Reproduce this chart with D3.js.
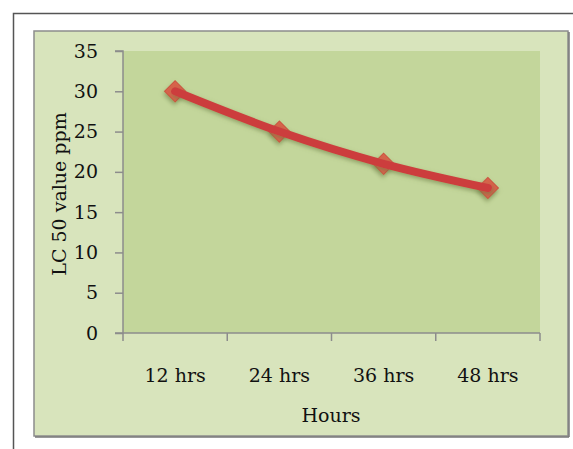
<!DOCTYPE html>
<html><head><meta charset="utf-8">
<script src="https://cdn.jsdelivr.net/npm/d3@7"></script>
<style>body{margin:0;background:#fff}svg{display:block}</style>
</head><body>
<script>
const categories = ["12 hrs", "24 hrs", "36 hrs", "48 hrs"];
const lcValues = [30, 25, 21, 18];
const yTicks = [0, 5, 10, 15, 20, 25, 30, 35];
const xTitle = "Hours";
const yTitle = "LC 50 value ppm";

const W = 573, H = 449;
const svg = d3.select("body").append("svg").attr("width", W).attr("height", H);
const defs = svg.append("defs");
const f = defs.append("filter").attr("id","sh").attr("x","-50%").attr("y","-50%").attr("width","200%").attr("height","200%");
f.append("feDropShadow").attr("dx",1.5).attr("dy",2.5).attr("stdDeviation",2).attr("flood-color","#6b7a40").attr("flood-opacity",0.6);

// outer frame
svg.append("rect").attr("x",13.5).attr("y",13.5).attr("width",W+20).attr("height",H+20)
  .attr("fill","#fff").attr("stroke","#555").attr("stroke-width",1.5);
// chart panel
svg.append("rect").attr("x",34).attr("y",31).attr("width",534).attr("height",405)
  .attr("fill","#D8E4BC").attr("stroke","#8c8c8c").attr("stroke-width",1.5);
svg.append("line").attr("x1",569).attr("x2",569).attr("y1",32).attr("y2",437).attr("stroke","#777").attr("stroke-width",1.5);
svg.append("line").attr("x1",35).attr("x2",569).attr("y1",437).attr("y2",437).attr("stroke","#777").attr("stroke-width",1.5);

const m = {l:123, r:540, t:51, b:333};
const x = d3.scaleBand().domain(categories).range([m.l, m.r]);
const y = d3.scaleLinear().domain([0,35]).range([m.b, m.t]);

svg.append("rect").attr("x",m.l).attr("y",m.t).attr("width",m.r-m.l).attr("height",m.b-m.t).attr("fill","#C3D69B");

const font = "'DejaVu Serif',serif";

const ya = svg.append("g").attr("transform",`translate(${m.l},0)`)
  .call(d3.axisLeft(y).tickValues(yTicks).tickSize(8).tickPadding(17));
const xa = svg.append("g").attr("transform",`translate(0,${m.b})`)
  .call(d3.axisBottom(x).tickSize(0).tickPadding(36));
// x tick marks at band edges
const edges = categories.map(c=>x(c)).concat([m.r]);
xa.selectAll(".edge").data(edges).enter().append("line").attr("class","edge")
  .attr("x1",d=>d).attr("x2",d=>d).attr("y1",0).attr("y2",8);
[ya, xa].forEach(g=>{
  g.attr("font-family",font).attr("font-size",19);
  g.selectAll("path.domain").attr("stroke","#8c8c8c").attr("stroke-width",1.5);
  g.selectAll("line").attr("stroke","#8c8c8c").attr("stroke-width",1.5);
  g.selectAll("text").attr("font-family",font).attr("font-size",19).attr("fill","#111");
});
ya.select("path.domain").attr("d",`M-8,${m.t}H0V${m.b}H-8`);
xa.select("path.domain").attr("d",`M${m.l},0H${m.r}`);

svg.append("text").attr("x",331).attr("y",422).attr("text-anchor","middle")
  .attr("font-family",font).attr("font-size",19).attr("fill","#111").text(xTitle);
svg.append("text").attr("transform",`translate(66,${(m.t+m.b)/2+2}) rotate(-90)`).attr("text-anchor","middle")
  .attr("font-family",font).attr("font-size",19).attr("fill","#111").text(yTitle);

const pts = categories.map((c,i)=>[x(c)+x.bandwidth()/2, y(lcValues[i])]);
// markers
svg.append("g").selectAll("rect").data(pts).enter().append("rect")
  .attr("x",-7.5).attr("y",-7.5).attr("width",15).attr("height",15)
  .attr("transform",d=>`translate(${d[0]},${d[1]}) rotate(45)`)
  .attr("fill","#D7634B").attr("stroke","#C9553F").attr("stroke-width",1).attr("filter","url(#sh)");
svg.append("path").datum(pts).attr("d",d3.line().curve(d3.curveCatmullRom.alpha(0.5)))
  .attr("fill","none").attr("stroke","#CC3E3E").attr("stroke-width",8).attr("stroke-linecap","round")
  .attr("filter","url(#sh)");
</script>
</body></html>
